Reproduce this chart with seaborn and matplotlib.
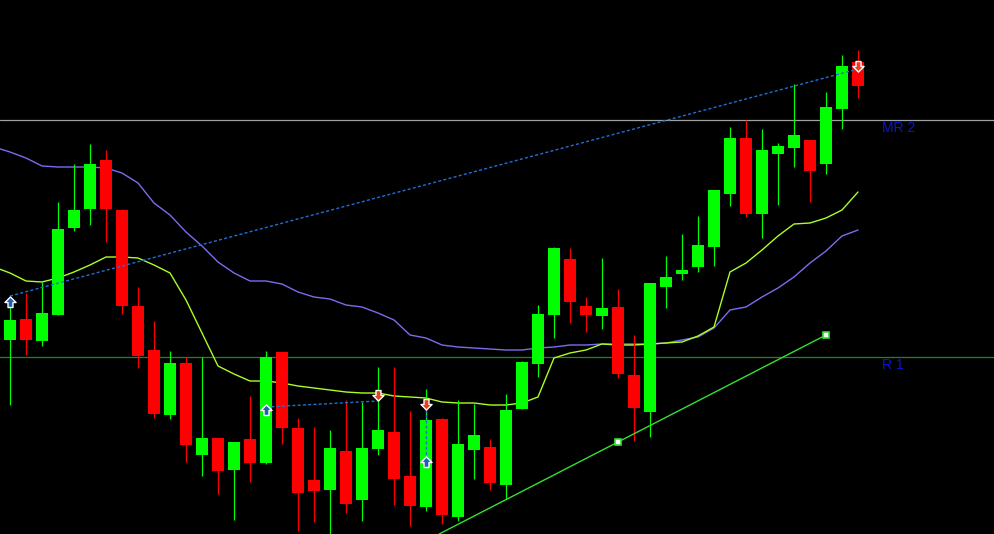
import numpy as np
import pandas as pd
import matplotlib
matplotlib.use("Agg")
import matplotlib.pyplot as plt
from matplotlib.path import Path
import seaborn as sns

# velas (precio en unidades del grafico)
open_ = [194, 215, 193, 219, 306, 325, 374, 324, 228, 184, 119, 171, 79, 96, 64, 95, 71, 182,
         106, 54, 44, 83, 34, 85, 102, 58, 27, 115, 17, 84, 87, 49, 125, 170, 219, 275, 228, 218,
         227, 159, 122, 247, 260, 267, 287, 340, 396, 320, 380, 386, 394, 370, 425, 472]
high = [231, 241, 252, 332, 370, 390, 384, 325, 247, 213, 183, 177, 177, 96, 92, 138, 183, 182,
        116, 107, 104, 134, 132, 167, 167, 123, 145, 116, 134, 130, 95, 140, 173, 229, 287, 286,
        237, 276, 245, 199, 251, 278, 300, 318, 344, 407, 414, 405, 391, 450, 394, 442, 479, 484]
low = [129, 179, 188, 219, 303, 309, 292, 220, 166, 116, 115, 72, 58, 40, 14, 52, 70, 90,
       3, 12, 0, 21, 13, 79, 29, 8, 23, 10, 13, 55, 44, 35, 125, 157, 196, 211, 202, 205,
       156, 93, 97, 226, 254, 262, 268, 328, 317, 296, 329, 367, 332, 360, 405, 436]
close = [214, 194, 221, 305, 324, 370, 325, 228, 178, 120, 171, 89, 96, 63, 92, 71, 177, 106,
         41, 43, 86, 30, 86, 104, 55, 28, 114, 19, 90, 99, 51, 124, 172, 220, 286, 232, 219, 226,
         160, 126, 251, 257, 264, 289, 344, 396, 320, 384, 388, 399, 363, 427, 468, 448]

# medias moviles (empiezan una vela antes de la primera visible)
ma_lenta = [387, 382, 376, 368, 367, 367, 367, 366, 361, 351, 331, 319, 302, 288, 272, 261, 253,
            253, 250, 242, 237, 235, 229, 227, 221, 214, 199, 196, 189, 187, 186, 185, 184, 184,
            186, 187, 189, 189, 190, 190, 190, 190, 191, 194, 197, 206, 224, 227, 237, 246, 257,
            271, 283, 298, 304]
ma_rapida = [267, 261, 253, 252, 256, 262, 269, 277, 277, 276, 269, 261, 234, 201, 168, 160, 153,
             153, 151, 148, 146, 144, 142, 141, 141, 138, 137, 136, 132, 131, 131, 129, 129, 131,
             137, 176, 181, 184, 190, 189, 189, 190, 191, 192, 198, 207, 262, 271, 284, 298, 310,
             311, 316, 324, 342]

# objetos dibujados
nivel_mr2 = 414
nivel_r1 = 177
tend_idx = [38, 51]
tend_val = [92, 199]
canal_idx = [0, 53]
canal_val = [238, 465]
canal2_idx = [16, 23]
canal2_val = [127, 133]
vert_idx = 26
vert_val = [130, 72]
flecha_arriba_idx = [0, 16, 26]
flecha_arriba_val = [232, 124, 72]
flecha_abajo_idx = [23, 26, 53]
flecha_abajo_val = [139, 130, 468]

sns.set_theme(style="dark")
plt.rcParams['font.family'] = ['Liberation Sans', 'DejaVu Sans']

fig = plt.figure(figsize=(9.94, 5.34), dpi=100, facecolor="black")
ax = fig.add_axes([0, 0, 1, 1])
ax.set_facecolor("black")

n = len(open_)
x = np.arange(n)
o = np.array(open_)
c = np.array(close)
sube = c >= o
colores = np.where(sube, "#00ff00", "#ff0000")

# horizontales
ax.axhline(nivel_mr2, color="#a0a0a0", lw=0.9, zorder=1)
ax.axhline(nivel_r1, color="#1a8a1a", lw=0.9, zorder=1)
ax.text(54.5, nivel_mr2 - 8, "MR 2", color="#0a14d0", fontsize=10, va="center", ha="left")
ax.text(54.5, nivel_r1 - 8, "R 1", color="#0a14d0", fontsize=10, va="center", ha="left")

# medias
df_ma = pd.DataFrame({"i": np.arange(-1, n), "lenta": ma_lenta, "rapida": ma_rapida})
sns.lineplot(data=df_ma, x="i", y="lenta", color="#7b6cf0", lw=1, ax=ax, zorder=2)
sns.lineplot(data=df_ma, x="i", y="rapida", color="#aaff22", lw=1, ax=ax, zorder=2)

# velas
ax.vlines(x, low, high, colors=colores, lw=0.9, zorder=3)
ax.bar(x, np.maximum(np.abs(c - o), 1), bottom=np.minimum(o, c), width=0.69,
       color=colores, linewidth=0, zorder=4)

# linea de tendencia
pend = (tend_val[1] - tend_val[0]) / (tend_idx[1] - tend_idx[0])
i0 = tend_idx[0] - tend_val[0] / pend
ax.plot([i0, tend_idx[1]], [0, tend_val[1]], color="#33e033", lw=1, zorder=5)
ax.plot(tend_idx, tend_val, ls="none", marker="s", ms=5, mfc="white", mec="#33e033",
        mew=1.2, zorder=6)

# lineas discontinuas
azul = "#1f6fd6"
ax.plot(canal_idx, canal_val, color=azul, lw=1, ls=(0, (2.2, 1.6)), zorder=5)
ax.plot(canal2_idx, canal2_val, color=azul, lw=1, ls=(0, (2.2, 1.6)), zorder=5)
ax.plot([vert_idx, vert_idx], vert_val, color=azul, lw=1, ls=(0, (2.2, 1.6)), zorder=5)

# flechas
verts = [(-1, 0), (0, 1), (1, 0), (0.45, 0), (0.45, -0.9), (-0.45, -0.9), (-0.45, 0), (-1, 0)]
codes = [Path.MOVETO] + [Path.LINETO] * 6 + [Path.CLOSEPOLY]
arriba = Path(verts, codes)
abajo = Path([(vx, -vy) for vx, vy in verts], codes)
ax.plot(flecha_arriba_idx, flecha_arriba_val, ls="none", marker=arriba, ms=8,
        mfc="#1e5fb0", mec="white", mew=1, zorder=7)
ax.plot(flecha_abajo_idx, flecha_abajo_val, ls="none", marker=abajo, ms=8,
        mfc="#e8401c", mec="white", mew=1, zorder=7)

ax.set_xlim(-0.625, 61.5)
ax.set_ylim(0, 534)
ax.set_axis_off()

fig.savefig("out.png", dpi=100, facecolor="black")
